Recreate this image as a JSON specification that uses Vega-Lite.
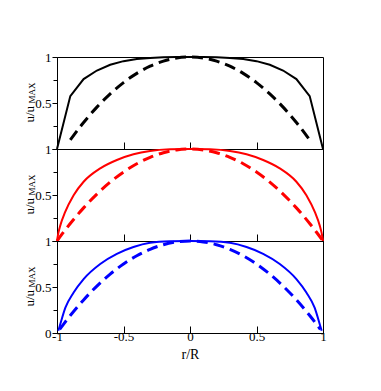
{
  "$schema": "https://vega.github.io/schema/vega-lite/v6.json",
  "autosize": {"type": "pad"},
  "padding": {"left": 22, "top": 50, "right": 5, "bottom": 5},
  "bounds": "flush",
  "spacing": 0,
  "config": {
    "font": "Liberation Serif",
    "view": {"stroke": "#000", "strokeWidth": 1},
    "axis": {
      "labelFont": "Liberation Serif", "titleFont": "Liberation Serif",
      "labelFontSize": 13, "titleFontSize": 14, "labelColor": "#000", "titleColor": "#000",
      "domainColor": "#000", "tickColor": "#000", "grid": false, "labelFlush": false,
      "labelOverlap": false, "titleFontWeight": "normal"
    }
  },
  "datasets": {
    "black_solid": [
      {"r": -1, "u": 0}, {"r": -0.9, "u": 0.575}, {"r": -0.8, "u": 0.76}, {"r": -0.7, "u": 0.853},
      {"r": -0.6, "u": 0.915}, {"r": -0.5, "u": 0.955}, {"r": -0.4, "u": 0.978}, {"r": -0.3, "u": 0.99},
      {"r": -0.2, "u": 0.996}, {"r": -0.1, "u": 0.999}, {"r": 0, "u": 1}, {"r": 0.1, "u": 0.999},
      {"r": 0.2, "u": 0.996}, {"r": 0.3, "u": 0.99}, {"r": 0.4, "u": 0.978}, {"r": 0.5, "u": 0.955},
      {"r": 0.6, "u": 0.915}, {"r": 0.7, "u": 0.853}, {"r": 0.8, "u": 0.76}, {"r": 0.9, "u": 0.575},
      {"r": 1, "u": 0}
    ],
    "black_dash": [
      {"r": -0.9, "u": 0.099}, {"r": -0.8, "u": 0.288}, {"r": -0.7, "u": 0.455}, {"r": -0.6, "u": 0.599},
      {"r": -0.5, "u": 0.722}, {"r": -0.4, "u": 0.822}, {"r": -0.3, "u": 0.9}, {"r": -0.2, "u": 0.955},
      {"r": -0.1, "u": 0.989}, {"r": 0, "u": 1}, {"r": 0.1, "u": 0.989}, {"r": 0.2, "u": 0.955},
      {"r": 0.3, "u": 0.9}, {"r": 0.4, "u": 0.822}, {"r": 0.5, "u": 0.722}, {"r": 0.6, "u": 0.599},
      {"r": 0.7, "u": 0.455}, {"r": 0.8, "u": 0.288}, {"r": 0.9, "u": 0.099}
    ],
    "red_solid": [
      {"r": -1, "u": 0}, {"r": -0.99, "u": 0.085}, {"r": -0.975, "u": 0.17}, {"r": -0.94, "u": 0.31},
      {"r": -0.875, "u": 0.498}, {"r": -0.8, "u": 0.644}, {"r": -0.675, "u": 0.789}, {"r": -0.55, "u": 0.88},
      {"r": -0.425, "u": 0.942}, {"r": -0.3, "u": 0.978}, {"r": -0.15, "u": 0.996}, {"r": 0, "u": 1},
      {"r": 0.15, "u": 0.996}, {"r": 0.3, "u": 0.978}, {"r": 0.425, "u": 0.942}, {"r": 0.55, "u": 0.88},
      {"r": 0.675, "u": 0.789}, {"r": 0.8, "u": 0.644}, {"r": 0.875, "u": 0.498}, {"r": 0.94, "u": 0.31},
      {"r": 0.975, "u": 0.17}, {"r": 0.99, "u": 0.085}, {"r": 1, "u": 0}
    ],
    "red_dash": [
      {"r": -1, "u": 0}, {"r": -0.95, "u": 0.0975}, {"r": -0.9, "u": 0.19}, {"r": -0.8, "u": 0.36},
      {"r": -0.7, "u": 0.51}, {"r": -0.6, "u": 0.64}, {"r": -0.5, "u": 0.75}, {"r": -0.4, "u": 0.84},
      {"r": -0.3, "u": 0.91}, {"r": -0.2, "u": 0.96}, {"r": -0.1, "u": 0.99}, {"r": 0, "u": 1},
      {"r": 0.1, "u": 0.99}, {"r": 0.2, "u": 0.96}, {"r": 0.3, "u": 0.91}, {"r": 0.4, "u": 0.84},
      {"r": 0.5, "u": 0.75}, {"r": 0.6, "u": 0.64}, {"r": 0.7, "u": 0.51}, {"r": 0.8, "u": 0.36},
      {"r": 0.9, "u": 0.19}, {"r": 0.95, "u": 0.0975}, {"r": 1, "u": 0}
    ],
    "blue_solid": [
      {"r": -0.99, "u": 0.025}, {"r": -0.98, "u": 0.073}, {"r": -0.937, "u": 0.275}, {"r": -0.875, "u": 0.44},
      {"r": -0.8, "u": 0.586}, {"r": -0.675, "u": 0.75}, {"r": -0.55, "u": 0.86}, {"r": -0.425, "u": 0.934},
      {"r": -0.3, "u": 0.98}, {"r": -0.15, "u": 0.997}, {"r": 0, "u": 1}, {"r": 0.15, "u": 0.997},
      {"r": 0.3, "u": 0.98}, {"r": 0.425, "u": 0.934}, {"r": 0.55, "u": 0.86}, {"r": 0.675, "u": 0.75},
      {"r": 0.8, "u": 0.586}, {"r": 0.875, "u": 0.44}, {"r": 0.937, "u": 0.275}, {"r": 0.98, "u": 0.073},
      {"r": 0.99, "u": 0.025}
    ],
    "blue_dash": [
      {"r": -0.98, "u": 0.04}, {"r": -0.95, "u": 0.0975}, {"r": -0.9, "u": 0.19}, {"r": -0.8, "u": 0.36},
      {"r": -0.7, "u": 0.51}, {"r": -0.6, "u": 0.64}, {"r": -0.5, "u": 0.75}, {"r": -0.4, "u": 0.84},
      {"r": -0.3, "u": 0.91}, {"r": -0.2, "u": 0.96}, {"r": -0.1, "u": 0.99}, {"r": 0, "u": 1},
      {"r": 0.1, "u": 0.99}, {"r": 0.2, "u": 0.96}, {"r": 0.3, "u": 0.91}, {"r": 0.4, "u": 0.84},
      {"r": 0.5, "u": 0.75}, {"r": 0.6, "u": 0.64}, {"r": 0.7, "u": 0.51}, {"r": 0.8, "u": 0.36},
      {"r": 0.9, "u": 0.19}, {"r": 0.95, "u": 0.0975}, {"r": 0.98, "u": 0.04}
    ]
  },
  "vconcat": [
    {
      "width": 266, "height": 92,
      "layer": [
        {
          "data": {"name": "black_solid"},
          "mark": {"type": "line", "color": "#000000", "strokeWidth": 2},
          "encoding": {
            "x": {"field": "r", "type": "quantitative", "scale": {"domain": [-1, 1], "nice": false},
              "axis": {"values": [-1, -0.75, -0.5, -0.25, 0, 0.25, 0.5, 0.75, 1], "labels": false, "title": null,
                "tickSize": {"condition": {"test": "abs(datum.value*2 - round(datum.value*2)) < 0.01", "value": -7}, "value": -4}}},
            "y": {"field": "u", "type": "quantitative", "scale": {"domain": [0, 1], "nice": false},
              "axis": {"values": [0, 0.25, 0.5, 0.75, 1],
                "labelExpr": "datum.value == 0.5 || datum.value == 1 ? toString(datum.value) : ''",
                "tickSize": {"condition": {"test": "datum.value == 0 || datum.value == 0.5 || datum.value == 1", "value": 5}, "value": 4},
                "labelPadding": 1, "title": "u/u", "titleFontSize": 13, "titleAlign": "left", "titleBaseline": "alphabetic",
                "titleAngle": -90, "titleX": -24, "titleY": 65}}
          }
        },
        {
          "data": {"name": "black_dash"},
          "mark": {"type": "line", "color": "#000000", "strokeWidth": 3, "strokeDash": [11, 6], "interpolate": "monotone"},
          "encoding": {
            "x": {"field": "r", "type": "quantitative", "scale": {"domain": [-1, 1], "nice": false}},
            "y": {"field": "u", "type": "quantitative", "scale": {"domain": [0, 1], "nice": false},
              "axis": {"orient": "left", "domain": false, "ticks": false, "labels": false, "title": "MAX",
                "titleFontSize": 9, "titleAlign": "left", "titleBaseline": "alphabetic", "titleAngle": -90,
                "titleX": -23, "titleY": 46}}
          }
        }
      ],
      "resolve": {"axis": {"y": "independent"}}
    },
    {
      "width": 266, "height": 92,
      "layer": [
        {
          "data": {"name": "red_solid"},
          "mark": {"type": "line", "color": "#ff0000", "strokeWidth": 2, "interpolate": "monotone"},
          "encoding": {
            "x": {"field": "r", "type": "quantitative", "scale": {"domain": [-1, 1], "nice": false},
              "axis": {"values": [-1, -0.75, -0.5, -0.25, 0, 0.25, 0.5, 0.75, 1], "labels": false, "title": null,
                "tickSize": {"condition": {"test": "abs(datum.value*2 - round(datum.value*2)) < 0.01", "value": -7}, "value": -4}}},
            "y": {"field": "u", "type": "quantitative", "scale": {"domain": [0, 1], "nice": false},
              "axis": {"values": [0, 0.25, 0.5, 0.75, 1],
                "labelExpr": "datum.value == 0.5 || datum.value == 1 ? toString(datum.value) : ''",
                "tickSize": {"condition": {"test": "datum.value == 0 || datum.value == 0.5 || datum.value == 1", "value": 5}, "value": 4},
                "labelPadding": 1, "title": "u/u", "titleFontSize": 13, "titleAlign": "left", "titleBaseline": "alphabetic",
                "titleAngle": -90, "titleX": -24, "titleY": 65}}
          }
        },
        {
          "data": {"name": "red_dash"},
          "mark": {"type": "line", "color": "#ff0000", "strokeWidth": 3, "strokeDash": [11, 6], "interpolate": "monotone"},
          "encoding": {
            "x": {"field": "r", "type": "quantitative", "scale": {"domain": [-1, 1], "nice": false}},
            "y": {"field": "u", "type": "quantitative", "scale": {"domain": [0, 1], "nice": false},
              "axis": {"orient": "left", "domain": false, "ticks": false, "labels": false, "title": "MAX",
                "titleFontSize": 9, "titleAlign": "left", "titleBaseline": "alphabetic", "titleAngle": -90,
                "titleX": -23, "titleY": 46}}
          }
        }
      ],
      "resolve": {"axis": {"y": "independent"}}
    },
    {
      "width": 266, "height": 92,
      "layer": [
        {
          "data": {"name": "blue_solid"},
          "mark": {"type": "line", "color": "#0000ff", "strokeWidth": 2, "interpolate": "monotone"},
          "encoding": {
            "x": {"field": "r", "type": "quantitative", "scale": {"domain": [-1, 1], "nice": false},
              "axis": {"values": [-1, -0.75, -0.5, -0.25, 0, 0.25, 0.5, 0.75, 1],
                "labelExpr": "abs(datum.value*2 - round(datum.value*2)) < 0.01 ? toString(datum.value) : ''",
                "labelPadding": 4, "title": "r/R", "titlePadding": 4,
                "tickSize": {"condition": {"test": "abs(datum.value*2 - round(datum.value*2)) < 0.01", "value": -7}, "value": -4}}},
            "y": {"field": "u", "type": "quantitative", "scale": {"domain": [0, 1], "nice": false},
              "axis": {"values": [0, 0.25, 0.5, 0.75, 1],
                "labelExpr": "datum.value == 0 || datum.value == 0.5 || datum.value == 1 ? toString(datum.value) : ''",
                "tickSize": {"condition": {"test": "datum.value == 0 || datum.value == 0.5 || datum.value == 1", "value": 5}, "value": 4},
                "labelPadding": 1, "title": "u/u", "titleFontSize": 13, "titleAlign": "left", "titleBaseline": "alphabetic",
                "titleAngle": -90, "titleX": -24, "titleY": 65}}
          }
        },
        {
          "data": {"name": "blue_dash"},
          "mark": {"type": "line", "color": "#0000ff", "strokeWidth": 3, "strokeDash": [11, 6], "interpolate": "monotone"},
          "encoding": {
            "x": {"field": "r", "type": "quantitative", "scale": {"domain": [-1, 1], "nice": false}},
            "y": {"field": "u", "type": "quantitative", "scale": {"domain": [0, 1], "nice": false},
              "axis": {"orient": "left", "domain": false, "ticks": false, "labels": false, "title": "MAX",
                "titleFontSize": 9, "titleAlign": "left", "titleBaseline": "alphabetic", "titleAngle": -90,
                "titleX": -23, "titleY": 46}}
          }
        }
      ],
      "resolve": {"axis": {"y": "independent"}}
    }
  ]
}
